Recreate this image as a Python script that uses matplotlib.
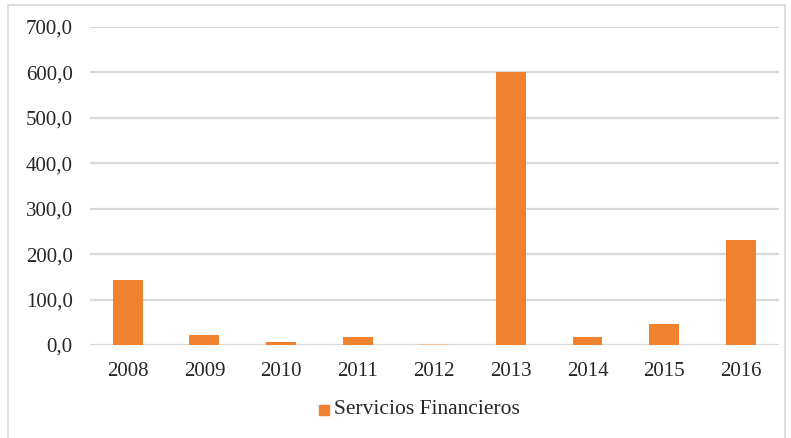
import matplotlib
matplotlib.use("Agg")
import matplotlib.pyplot as plt
from matplotlib.patches import Rectangle
from matplotlib.ticker import FuncFormatter

years = ["2008", "2009", "2010", "2011", "2012", "2013", "2014", "2015", "2016"]
values = [143.0, 22.0, 7.0, 18.0, 3.0, 600.0, 18.0, 46.0, 231.0]
series_name = "Servicios Financieros"
yticks = [0, 100, 200, 300, 400, 500, 600, 700]

plt.rcParams['font.family'] = ['Liberation Serif', 'DejaVu Serif']

fig = plt.figure(figsize=(7.91, 4.38), dpi=100)
ax = fig.add_axes([89.5/791, 1 - 345/438, (779 - 89.5)/791, (345 - 27)/438])

colors = ["#F0822F"] * len(values)
colors[4] = "#F6C29B"
ax.bar(range(len(years)), values, width=0.39, color=colors, zorder=3)

ax.set_xlim(-0.5, len(years) - 0.5)
ax.set_ylim(0, 700)
ax.set_yticks(yticks)
ax.yaxis.set_major_formatter(FuncFormatter(lambda v, p: f"{v:.1f}".replace(".", ",")))
ax.set_xticks(range(len(years)))
ax.set_xticklabels(years)
ax.grid(axis='y', color="#D9D9D9", linewidth=1.6, zorder=0)
for s in ax.spines.values():
    s.set_visible(False)
ax.tick_params(axis='both', length=0, labelsize=15, colors="#262626")
ax.tick_params(axis='y', pad=12)
ax.tick_params(axis='x', pad=12)

# legend
fig.patches.append(Rectangle((319/791, 1 - 415/438), 10/791, 10/438,
                             transform=fig.transFigure, color="#F0822F"))
fig.text(334/791, 1 - 410/438, series_name, fontsize=15.5, color="#262626",
         va='center', ha='left')

# outer border
fig.patches.append(Rectangle((8/791, -0.01), (785 - 8)/791, 1 - 5/438 + 0.01,
                             transform=fig.transFigure, fill=False,
                             edgecolor="#D9D9D9", linewidth=1.2))

fig.savefig("out.png", dpi=100)
